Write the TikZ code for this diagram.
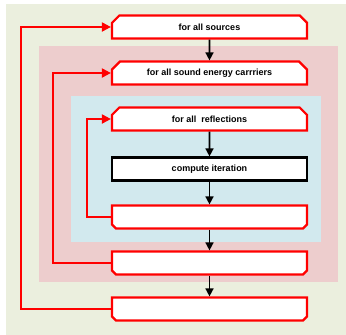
\documentclass[tikz,border=0pt]{standalone}
\usepackage{fontspec}
\setmainfont{Liberation Sans}
\usepackage{tikz}
\usetikzlibrary{shapes.misc, arrows.meta, positioning}
\definecolor{bgsource}{RGB}{235,239,222}
\definecolor{bgcarrier}{RGB}{237,205,205}
\definecolor{bgreflect}{RGB}{210,233,238}
\definecolor{loopred}{RGB}{255,0,0}
\tikzstyle{loopbase} = [minimum width=195pt, minimum height=23pt, inner sep=0pt, draw=loopred, line width=2.2pt, fill=white, font=\fontsize{9}{11}\selectfont\bfseries, text centered]
\tikzstyle{loophead} = [loopbase, chamfered rectangle, chamfered rectangle xsep=4pt, chamfered rectangle ysep=4pt, chamfered rectangle corners={north west,north east}]
\tikzstyle{looptail} = [loopbase, chamfered rectangle, chamfered rectangle xsep=4pt, chamfered rectangle ysep=4pt, chamfered rectangle corners={south west,south east}]
\tikzstyle{process} = [rectangle, minimum width=195pt, minimum height=23pt, inner sep=0pt, draw=black, line width=2.2pt, fill=white, font=\fontsize{9}{11}\selectfont\bfseries, text centered]
\tikzstyle{arrow} = [line width=1.6pt, -{Triangle[length=8pt,width=8pt]}]
\tikzstyle{back} = [line width=2pt, draw=loopred, -{Triangle[length=9pt,width=9pt]}]

\begin{document}
\begin{tikzpicture}[x=1pt, y=1pt, node distance=46pt]
\useasboundingbox (0,0) rectangle (346,-335);
% nested loop regions
\fill[bgsource] (6,-4) rectangle (346,-335);
\fill[bgcarrier] (39,-46) rectangle (338,-282);
\fill[bgreflect] (71,-96) rectangle (321,-242);

\node (sources) [loophead] at (209.5,-27) {for all sources};
\node (carriers) [loophead, below of=sources] {for all sound energy carrriers};
\node (reflections) [loophead, below of=carriers] {for all\ \ reflections};
\node (compute) [process, below of=reflections, yshift=-4pt] {compute iteration};
\node (endreflections) [looptail, below of=compute, yshift=-2pt] {\strut};
\node (endcarriers) [looptail, below of=endreflections] {\strut};
\node (endsources) [looptail, below of=endcarriers] {\strut};

\draw [arrow] (sources) -- (carriers);
\draw [arrow] (reflections) -- (compute);
\draw [arrow] (compute) -- (endreflections);
\draw [arrow] (endreflections) -- (endcarriers);
\draw [arrow] (endcarriers) -- (endsources);
\draw [back] (endreflections.west) -- ++(-24,0) |- (reflections.west);
\draw [back] (endcarriers.west) -- ++(-58,0) |- (carriers.west);
\draw [back] (endsources.west) -- ++(-90,0) |- (sources.west);
\end{tikzpicture}
\end{document}
